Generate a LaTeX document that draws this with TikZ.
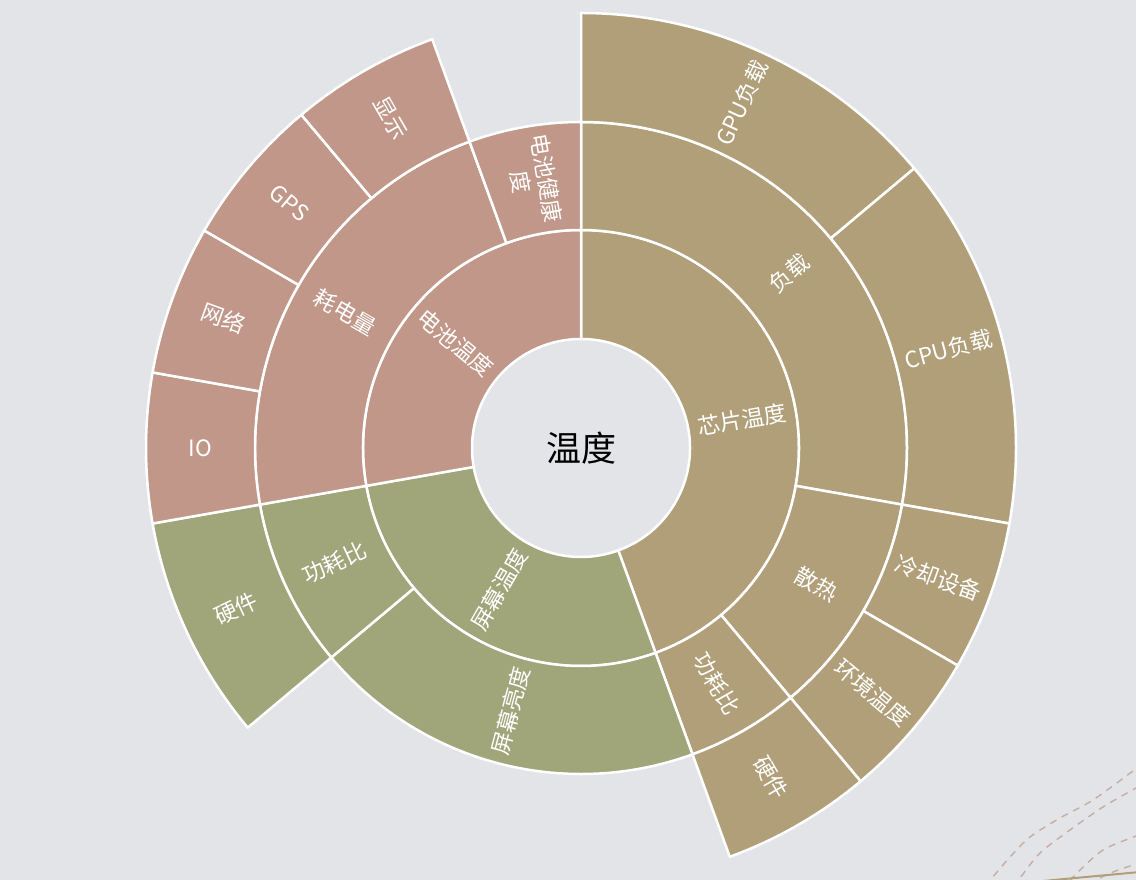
\documentclass[tikz,border=0pt]{standalone}
\usepackage{fontspec}
\setmainfont{Noto Sans CJK SC}
\definecolor{bgc}{HTML}{E3E4E8}
\definecolor{chipc}{HTML}{B09F79}
\definecolor{batc}{HTML}{C09789}
\definecolor{scrc}{HTML}{A0A57A}
\definecolor{dashc}{HTML}{C6ADA2}
\definecolor{linec}{HTML}{B09F79}
\newcommand{\sunsector}[5]{%
  \fill[#1, draw=white, line width=2.5pt, line join=round]
    (#2:#4) arc[start angle=#2, end angle=#3, radius=#4]
    -- (#3:#5) arc[start angle=#3, end angle=#2, radius=#5] -- cycle;}
\tikzset{
  lbl/.style={text=white, font=\fontsize{22.5}{26}\selectfont, inner sep=0pt, align=center},
  deco/.style={dashc, line width=1.4pt, dash pattern=on 7pt off 6pt}
}
\begin{document}
\begin{tikzpicture}[x=1pt,y=1pt]
\fill[bgc] (0,0) rectangle (1136,880);
\useasboundingbox (0,0) rectangle (1136,880);
% decorative arcs bottom right
\begin{scope}
\clip (0,0) rectangle (1136,880);
\draw[deco] plot[smooth] coordinates {(985,-6) (992,2) (1010,23) (1030,43) (1060,62) (1093,80) (1133,109) (1145,118)};
\draw[deco] plot[smooth] coordinates {(1013,-7) (1020,2) (1040,27) (1070,50) (1103,73) (1136,92) (1146,98)};
\draw[deco] plot[smooth] coordinates {(1070,-1) (1077,7) (1103,30) (1136,44) (1146,48)};
\draw[deco] plot[smooth] coordinates {(1100,2) (1113,8) (1136,16) (1146,19)};
\draw[linec, line width=2pt] (1043,-1) -- (1140,8);
\end{scope}
\begin{scope}[shift={(581,432)}]
% ring 1
\sunsector{chipc}{-70}{90}{109}{218}
\sunsector{scrc}{-170}{-70}{109}{218}
\sunsector{batc}{90}{190}{109}{218}
% ring 2
\sunsector{chipc}{-10}{90}{218}{326}
\sunsector{chipc}{-50}{-10}{218}{326}
\sunsector{chipc}{-70}{-50}{218}{326}
\sunsector{scrc}{-140}{-70}{218}{326}
\sunsector{scrc}{-170}{-140}{218}{326}
\sunsector{batc}{110}{190}{218}{326}
\sunsector{batc}{90}{110}{218}{326}
% ring 3
\sunsector{chipc}{40}{90}{326}{435}
\sunsector{chipc}{-10}{40}{326}{435}
\sunsector{chipc}{-30}{-10}{326}{435}
\sunsector{chipc}{-50}{-30}{326}{435}
\sunsector{chipc}{-70}{-50}{326}{435}
\sunsector{scrc}{-170}{-140}{326}{435}
\sunsector{batc}{170}{190}{326}{435}
\sunsector{batc}{150}{170}{326}{435}
\sunsector{batc}{130}{150}{326}{435}
\sunsector{batc}{110}{130}{326}{435}
% center
\node[font=\fontsize{35}{40}\selectfont, text=black, inner sep=0pt] (root) at (0,0) {温度};
% ring 1 labels
\node[lbl, rotate=10] (chip) at (10:163.5) {芯片温度};
\node[lbl, rotate=60] (scr) at (-120:163.5) {屏幕温度};
\node[lbl, rotate=-40] (bat) at (140:163.5) {电池温度};
% ring 2 labels
\node[lbl, rotate=40] (load) at (40:272) {负载};
\node[lbl, rotate=-30] (heat) at (-30:272) {散热};
\node[lbl, rotate=-60] (pwrA) at (-60:272) {功耗比};
\node[lbl, rotate=75] (bright) at (-105:272) {屏幕亮度};
\node[lbl, rotate=25] (pwrB) at (-155:272) {功耗比};
\node[lbl, rotate=-30] (cons) at (150:272) {耗电量};
\node[lbl, rotate=-80] (health) at (100:272) {电池健康\\度};
% ring 3 labels
\node[lbl, rotate=65] (gpu) at (65:380.5) {GPU负载};
\node[lbl, rotate=15] (cpu) at (15:380.5) {CPU负载};
\node[lbl, rotate=-20] (cool) at (-20:380.5) {冷却设备};
\node[lbl, rotate=-40] (env) at (-40:380.5) {环境温度};
\node[lbl, rotate=-60] (hwA) at (-60:380.5) {硬件};
\node[lbl, rotate=25] (hwB) at (-155:380.5) {硬件};
\node[lbl, rotate=0] (io) at (180:380.5) {IO};
\node[lbl, rotate=-20] (net) at (160:380.5) {网络};
\node[lbl, rotate=-40] (gps) at (140:380.5) {GPS};
\node[lbl, rotate=-60] (disp) at (120:380.5) {显示};
\end{scope}
\end{tikzpicture}
\end{document}
